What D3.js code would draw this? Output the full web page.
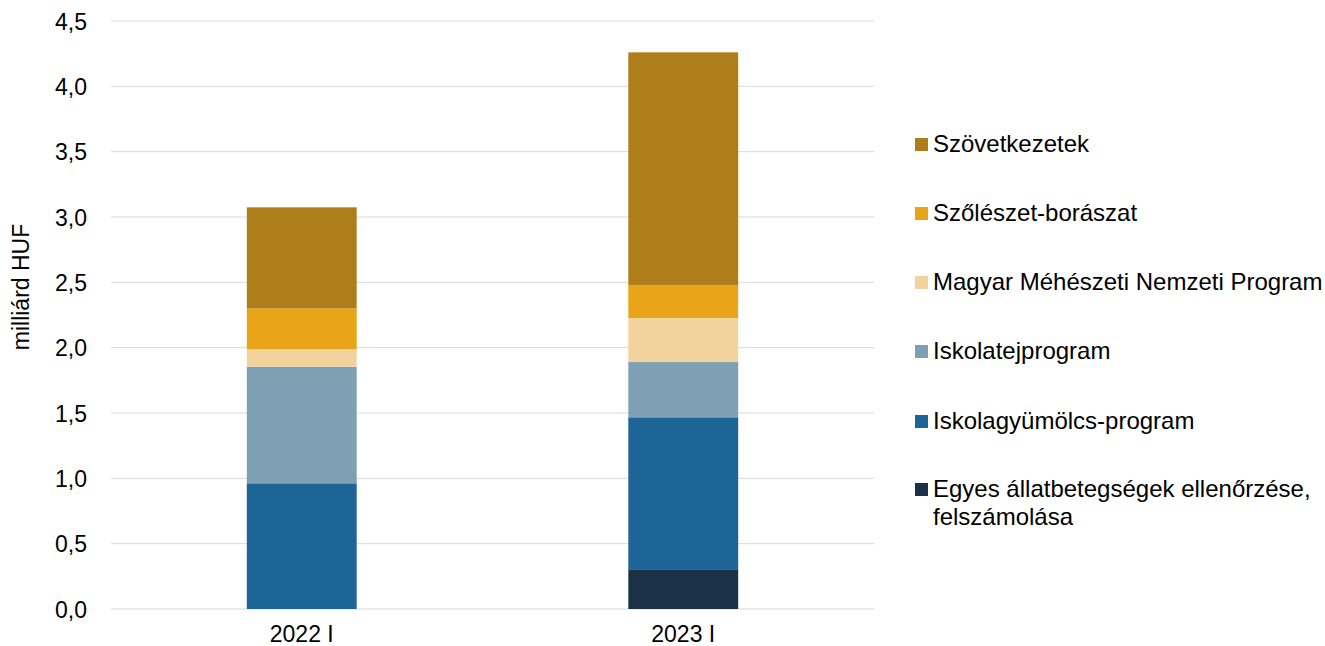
<!DOCTYPE html>
<html>
<head>
<meta charset="utf-8">
<script src="https://cdn.jsdelivr.net/npm/d3@7"></script>
<style>
  body { margin: 0; background: #fff; }
  text { font-family: "Liberation Sans", Arial, sans-serif; fill: #000; }
</style>
</head>
<body>
<div id="chart"></div>
<script>
// categories and series (stack order: bottom to top)
const categories = ['2022 I', '2023 I'];
const series = [
  'Egyes állatbetegségek ellenőrzése, felszámolása',
  'Iskolagyümölcs-program',
  'Iskolatejprogram',
  'Magyar Méhészeti Nemzeti Program',
  'Szőlészet-borászat',
  'Szövetkezetek'
];
const egyes = [0.0, 0.304];
const iskolagyumolcs = [0.962, 1.163];
const iskolatej = [0.892, 0.423];
const meheszet = [0.133, 0.337];
const szoleszet = [0.314, 0.253];
const szovetkezetek = [0.773, 1.780];
const yTicks = [0, 0.5, 1, 1.5, 2, 2.5, 3, 3.5, 4, 4.5];

const colors = ['#1a3146', '#1d6596', '#7fa0b4', '#f2d29d', '#e8a517', '#ad7e1a'];

const seriesValues = [egyes, iskolagyumolcs, iskolatej, meheszet, szoleszet, szovetkezetek];
const table = categories.map((c, i) => {
  let row = { cat: c };
  series.forEach((s, j) => { row[s] = seriesValues[j][i]; });
  return row;
});

const W = 1325, H = 646;
const margin = { top: 21, right: 451, bottom: 37, left: 111 };
const width = W - margin.left - margin.right;
const height = H - margin.top - margin.bottom;

const svg = d3.select('#chart')
  .append('svg')
  .attr('width', W)
  .attr('height', H);

const g = svg.append('g')
  .attr('transform', `translate(${margin.left}, ${margin.top})`);

const x = d3.scaleBand().domain(categories).range([0, width]).paddingInner(0.712).paddingOuter(0.356);
const y = d3.scaleLinear().domain([0, 4.5]).range([height, 0]);

// gridlines
g.append('g')
  .selectAll('line')
  .data(yTicks)
  .join('line')
  .attr('x1', 0)
  .attr('x2', width)
  .attr('y1', (d) => y(d))
  .attr('y2', (d) => y(d))
  .attr('stroke', '#d9d9d9')
  .attr('stroke-width', 1);

// stacked bars
const stacked = d3.stack().keys(series)(table);
g.append('g')
  .selectAll('g')
  .data(stacked)
  .join('g')
  .attr('fill', (d, i) => colors[i])
  .selectAll('rect')
  .data((d) => d)
  .join('rect')
  .attr('x', (d) => x(d.data.cat))
  .attr('width', x.bandwidth())
  .attr('y', (d) => y(d[1]))
  .attr('height', (d) => y(d[0]) - y(d[1]));

// y axis
const yAxis = g.append('g')
  .attr('transform', 'translate(-21, 0)')
  .call(d3.axisLeft(y).tickValues(yTicks).tickSize(0)
    .tickFormat((d) => d3.format('.1f')(d).replace('.', ',')));
yAxis.select('.domain').remove();
yAxis.selectAll('text')
  .style('font-size', '23px')
  .style('font-family', '"Liberation Sans", Arial, sans-serif')
  .attr('fill', '#000')
  .attr('dy', '0.35em');

// x axis
const xAxis = g.append('g')
  .attr('transform', `translate(0, ${height})`)
  .call(d3.axisBottom(x).tickSize(0));
xAxis.select('.domain').remove();
xAxis.selectAll('text')
  .style('font-size', '23px')
  .style('font-family', '"Liberation Sans", Arial, sans-serif')
  .attr('fill', '#000')
  .attr('y', 33)
  .attr('dy', 0);

// y axis title
svg.append('text')
  .attr('transform', 'translate(29, 287) rotate(-90)')
  .attr('text-anchor', 'middle')
  .style('font-size', '23px')
  .text('milliárd HUF');

// handmade legend (reverse order)
const legendY = [144, 213, 282, 351, 421, 489];
const legendItems = series.map((s, i) => ({ name: s, color: colors[i] })).reverse();
const legend = svg.append('g');
legendItems.forEach((d, i) => {
  const cy = legendY[i];
  legend.append('rect')
    .attr('x', 915)
    .attr('y', cy - 6)
    .attr('width', 13)
    .attr('height', 13)
    .attr('fill', d.color);
  const lines = d.name === series[0]
    ? ['Egyes állatbetegségek ellenőrzése,', 'felszámolása']
    : [d.name];
  lines.forEach((ln, k) => {
    legend.append('text')
      .attr('x', 933)
      .attr('y', cy + k * 28)
      .attr('dy', '0.35em')
      .style('font-size', '24px')
      .text(ln);
  });
});
</script>
</body>
</html>
